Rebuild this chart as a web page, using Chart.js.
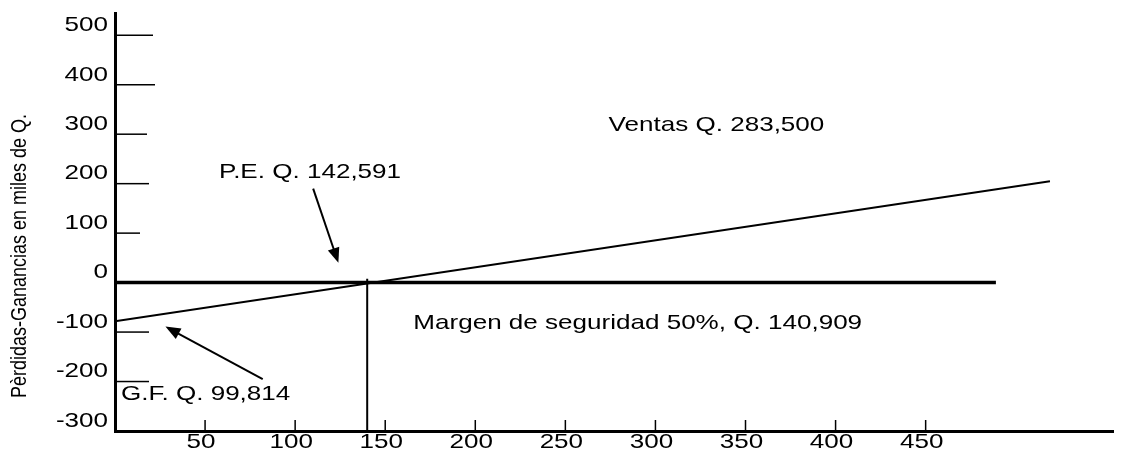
<!DOCTYPE html>
<html>
<head>
<meta charset="utf-8">
<script src="https://cdn.jsdelivr.net/npm/chart.js@4.4.0/dist/chart.umd.min.js"></script>
<style>
  html, body { margin: 0; padding: 0; background: #fff; }
  canvas { display: block; }
</style>
</head>
<body>
<canvas id="myChart" width="1131" height="450"></canvas>
<script>
'use strict';
// values (thousands of Q)
let xTicks = [50, 100, 150, 200, 250, 300, 350, 400, 450];
let yTicks = [500, 400, 300, 200, 100, 0, -100, -200, -300];
let salesX = [0, 519];
let salesY = [-78, 205];
let zeroX = [0, 489];
let zeroY = [0, 0];
let peX = [140, 140];
let peY = [8, -300];
let noteText = ['Ventas Q. 283,500', 'P.E. Q. 142,591', 'Margen de seguridad 50%, Q. 140,909', 'G.F. Q. 99,814'];
let noteX = [274, 57.8, 165.6, 3.3];
let noteY = [318, 223, -83, -225];
let arrowFrom = [[110, 190], [82, -195]];
let arrowTo = [[124, 40], [28, -89]];
let yTitle = 'Pèrdidas-Ganancias en miles de Q.';

function pts(xs, ys) {
    return xs.map((x, i) => ({ x: x, y: ys[i] }));
}

const stretch = 1.24;
const font = '21px "Liberation Sans", Arial, sans-serif';

function stretchedText(ctx, text, x, y, align) {
    ctx.save();
    ctx.translate(x, y);
    ctx.scale(stretch, 1);
    ctx.textAlign = align;
    ctx.textBaseline = 'middle';
    ctx.fillText(text, 0, 0);
    ctx.restore();
}

let tickLen = [38, 40, 32, 34, 25, 0, 34, 34, 0];

const drawing = {
    id: 'drawing',
    afterDraw(chart) {
        let ctx = chart.ctx;
        let xs = chart.scales.x;
        let ys = chart.scales.y;
        let left = chart.chartArea.left;
        let bottom = chart.chartArea.bottom;
        ctx.save();
        ctx.fillStyle = '#000';
        ctx.strokeStyle = '#000';
        ctx.font = font;

        // y tick marks + labels
        ctx.lineWidth = 1.5;
        yTicks.forEach((v, i) => {
            let py = ys.getPixelForValue(v);
            if (tickLen[i] > 0) {
                ctx.beginPath();
                ctx.moveTo(left + 2, py);
                ctx.lineTo(left + tickLen[i], py);
                ctx.stroke();
            }
            stretchedText(ctx, String(v), left - 7, py - 10, 'right');
        });

        // x tick marks + labels
        xTicks.forEach(v => {
            let px = xs.getPixelForValue(v);
            ctx.beginPath();
            ctx.moveTo(px, bottom);
            ctx.lineTo(px, bottom - 11);
            ctx.stroke();
            stretchedText(ctx, String(v), px - 4, bottom + 11, 'center');
        });

        // notes
        noteText.forEach((t, i) => {
            stretchedText(ctx, t, xs.getPixelForValue(noteX[i]), ys.getPixelForValue(noteY[i]), 'left');
        });

        // arrows
        ctx.lineWidth = 2;
        arrowFrom.forEach((a, i) => {
            let x1 = xs.getPixelForValue(a[0]), y1 = ys.getPixelForValue(a[1]);
            let x2 = xs.getPixelForValue(arrowTo[i][0]), y2 = ys.getPixelForValue(arrowTo[i][1]);
            let ang = Math.atan2(y2 - y1, x2 - x1);
            let head = 15;
            ctx.beginPath();
            ctx.moveTo(x1, y1);
            ctx.lineTo(x2 - Math.cos(ang) * head * 0.8, y2 - Math.sin(ang) * head * 0.8);
            ctx.stroke();
            ctx.beginPath();
            ctx.moveTo(x2, y2);
            ctx.lineTo(x2 - head * Math.cos(ang) + 6 * Math.sin(ang), y2 - head * Math.sin(ang) - 6 * Math.cos(ang));
            ctx.lineTo(x2 - head * Math.cos(ang) - 6 * Math.sin(ang), y2 - head * Math.sin(ang) + 6 * Math.cos(ang));
            ctx.closePath();
            ctx.fill();
        });

        // y axis title
        ctx.save();
        ctx.font = '18px "Liberation Sans", Arial, sans-serif';
        ctx.translate(20, 256);
        ctx.scale(1.25, 1);
        ctx.rotate(-Math.PI / 2);
        ctx.textAlign = 'center';
        ctx.textBaseline = 'middle';
        ctx.fillText(yTitle, 0, 0);
        ctx.restore();

        ctx.restore();
    }
};

let ctx = document.getElementById('myChart').getContext('2d');
let myChart = new Chart(ctx, {
    type: 'line',
    data: {
        datasets: [{
            label: 'Ventas',
            data: pts(salesX, salesY),
            borderColor: '#000',
            borderWidth: 2,
            pointRadius: 0
        },
        {
            label: 'Cero',
            data: pts(zeroX, zeroY),
            borderColor: '#000',
            borderWidth: 3.5,
            pointRadius: 0
        },
        {
            label: 'P.E.',
            data: pts(peX, peY),
            borderColor: '#000',
            borderWidth: 2,
            pointRadius: 0
        }]
    },
    options: {
        responsive: false,
        animation: false,
        devicePixelRatio: 1,
        layout: { padding: { left: 107, right: 18, top: 13, bottom: 11 } },
        plugins: { legend: { display: false }, tooltip: { enabled: false } },
        scales: {
            x: {
                type: 'linear',
                min: 0,
                max: 554,
                grid: { display: false },
                ticks: { display: false },
                border: { display: true, color: '#000', width: 3 }
            },
            y: {
                type: 'linear',
                min: -300,
                max: 545,
                grid: { display: false },
                ticks: { display: false },
                border: { display: true, color: '#000', width: 3 }
            }
        }
    },
    plugins: [drawing]
});
</script>
</body>
</html>
